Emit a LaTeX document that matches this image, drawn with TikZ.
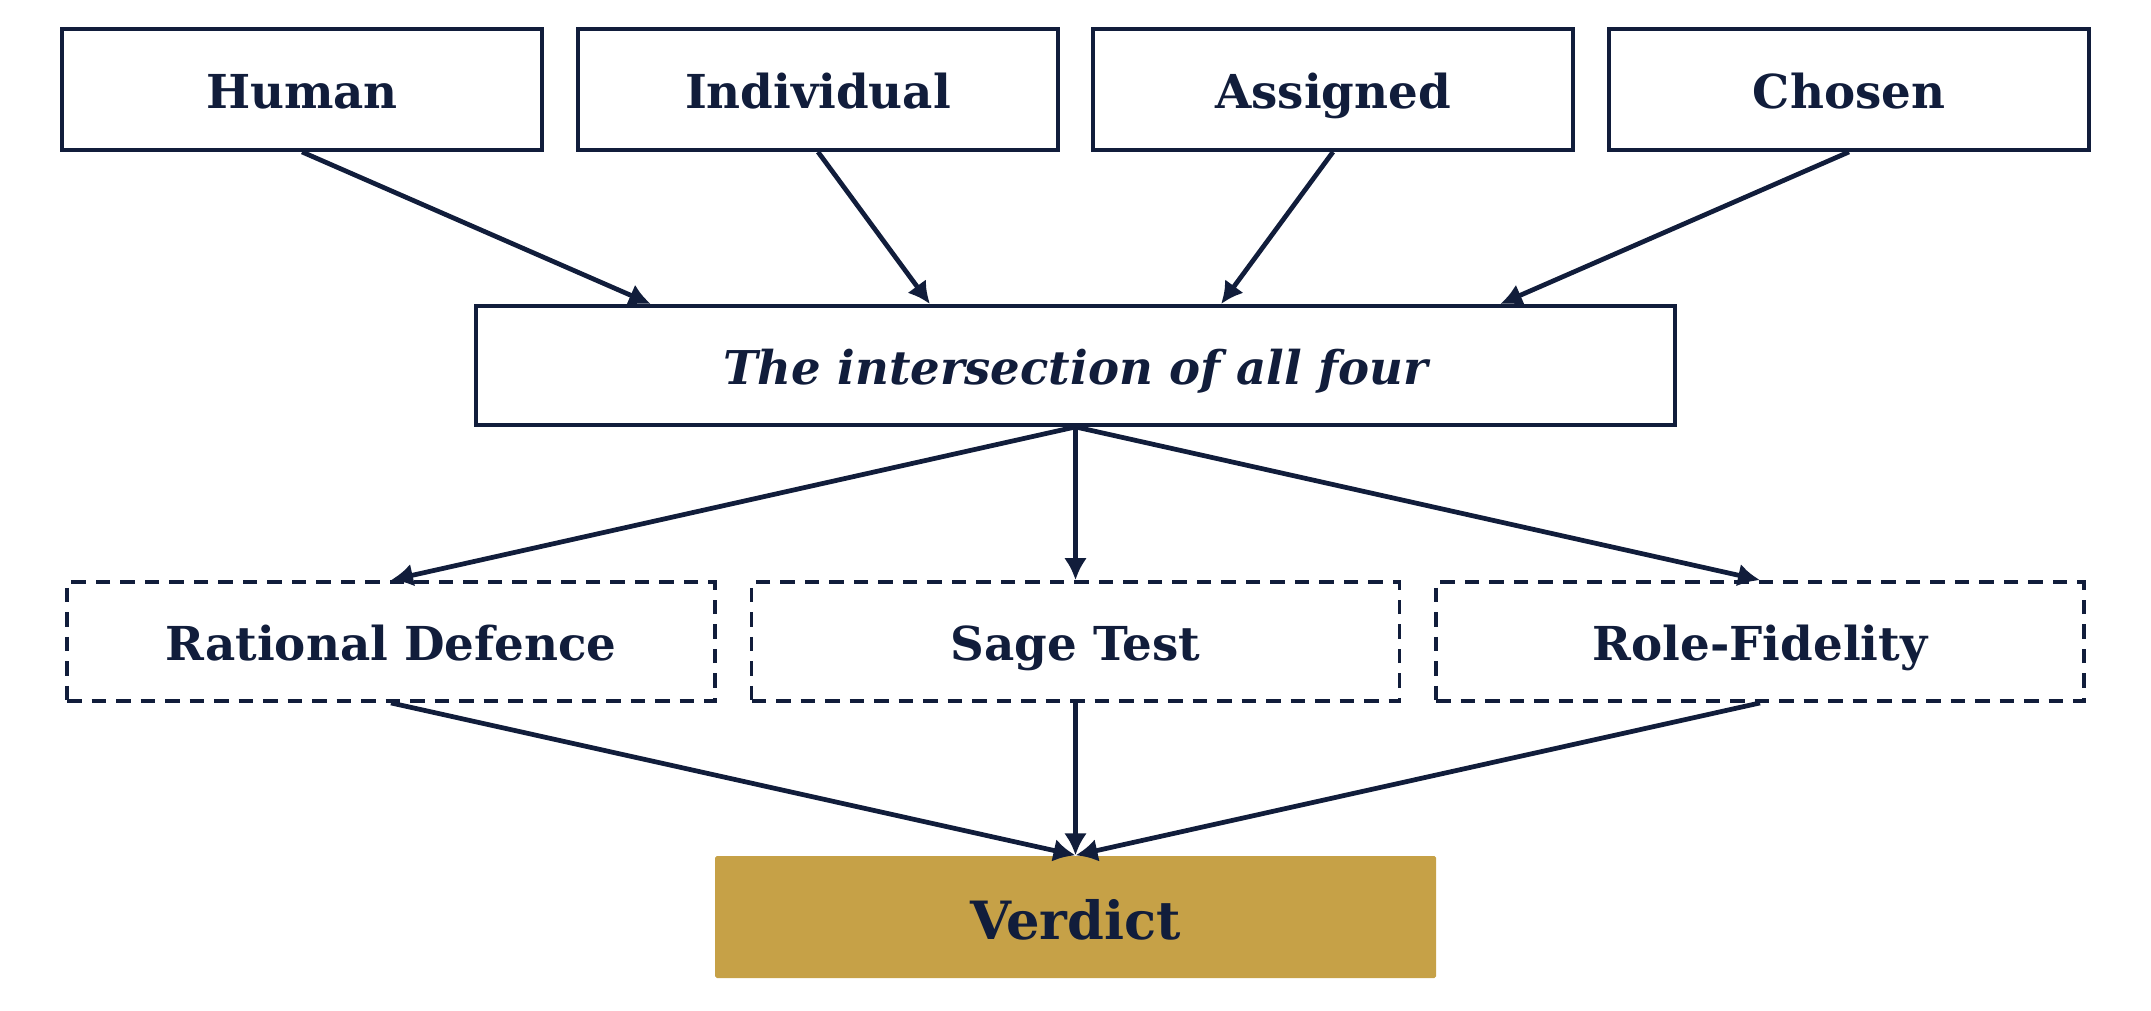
\documentclass[tikz,border=0pt]{standalone}
\usepackage{fontspec}
\setmainfont{DejaVu Serif}
\usetikzlibrary{arrows.meta,calc}

\definecolor{navy}{HTML}{111D3B}
\definecolor{gold}{HTML}{C6A147}

\begin{document}
\begin{tikzpicture}[>={Latex[length=2.2mm,width=2.3mm]},
    box/.style={draw=navy, line width=1.1pt, minimum width=4.8cm, minimum height=1.21cm, text height=10.8pt, text depth=0pt, font=\fontsize{13.3}{15}\selectfont\bfseries, text=navy},
    testbox/.style={box, dashed, dash pattern=on 1.45mm off 1mm, minimum width=6.48cm, minimum height=1.19cm},
    link/.style={->, draw=navy, line width=1.35pt}]
  \useasboundingbox (0, 0) rectangle (21.51, 10.10);

  \node[box] (human) at (3.02, 9.205) {Human};
  \node[box] (individual) at (8.18, 9.205) {Individual};
  \node[box] (assigned) at (13.33, 9.205) {Assigned};
  \node[box] (chosen) at (18.49, 9.205) {Chosen};

  \node[box, minimum width=11.99cm, minimum height=1.19cm, font=\fontsize{13.25}{15}\selectfont\bfseries\itshape] (all) at (10.755, 6.445) {The intersection of all four};

  \node[testbox] (defence) at (3.91, 3.685) {Rational Defence};
  \node[testbox] (sage) at (10.755, 3.685) {Sage Test};
  \node[testbox] (role) at (17.60, 3.685) {Role-Fidelity};

  \node[fill=gold, rounded corners=0.5pt, minimum width=7.21cm, minimum height=1.22cm, text height=12.8pt, text depth=0pt, text=navy, font=\fontsize{15}{17}\selectfont\bfseries] (verdict) at (10.755, 0.93) {Verdict};

  % four properties meet in the middle
  \draw[link] (human.south) -- ($(all.north west)!0.147!(all.north east)$);
  \draw[link] (individual.south) -- ($(all.north west)!0.379!(all.north east)$);
  \draw[link] (assigned.south) -- ($(all.north west)!0.621!(all.north east)$);
  \draw[link] (chosen.south) -- ($(all.north west)!0.853!(all.north east)$);

  \foreach \t in {defence, sage, role} {
    \draw[link] (all.south) -- (\t.north);
    \draw[link] (\t.south) -- (verdict.north);
  }
\end{tikzpicture}
\end{document}
